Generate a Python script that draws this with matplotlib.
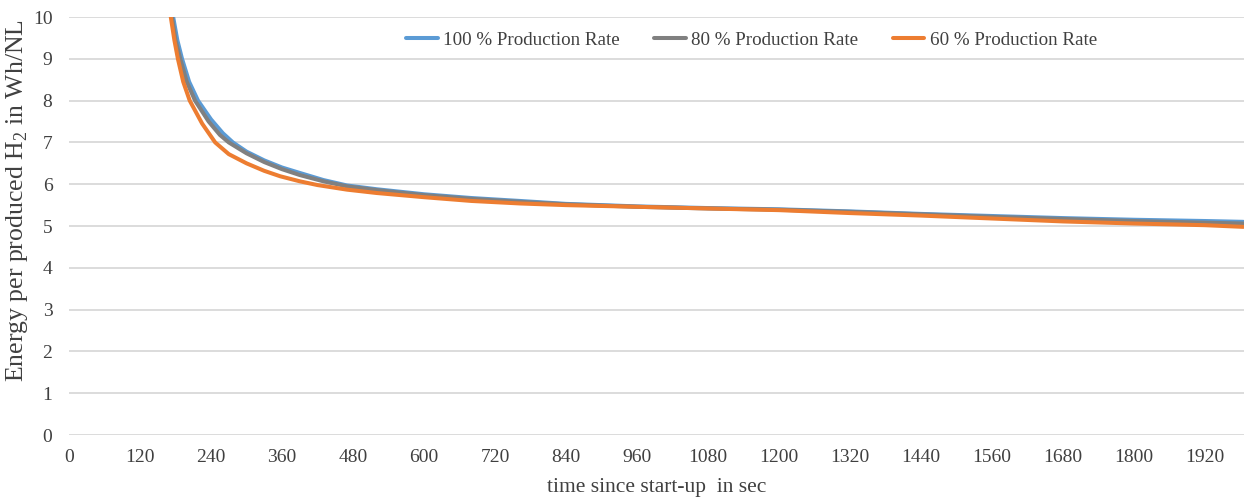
import numpy as np
import matplotlib
matplotlib.use("Agg")
import matplotlib.pyplot as plt

# time since start-up (s) and energy per produced H2 (Wh/NL)
t_100 = [172, 176, 183, 191, 203, 218, 240, 260, 277, 300, 330, 360, 390, 430, 470, 520, 560, 600,
         680, 762, 840, 960, 1080, 1200, 1320, 1440, 1560, 1680, 1800, 1920, 1985]
e_100 = [10.5, 10.0, 9.45, 9.0, 8.45, 8.0, 7.55, 7.22, 7.0, 6.78, 6.57, 6.4, 6.27, 6.1, 5.97, 5.88,
         5.82, 5.76, 5.67, 5.6, 5.53, 5.47, 5.43, 5.40, 5.35, 5.29, 5.24, 5.19, 5.15, 5.12, 5.10]

t_80 = [171, 174, 180, 188, 199, 213, 236, 255, 270, 300, 330, 360, 390, 430, 470, 520, 560, 600,
        680, 762, 840, 960, 1080, 1200, 1320, 1440, 1560, 1680, 1800, 1920, 1985]
e_80 = [10.5, 10.0, 9.45, 9.0, 8.45, 8.0, 7.5, 7.18, 7.0, 6.74, 6.53, 6.36, 6.22, 6.07, 5.95, 5.86,
        5.80, 5.74, 5.65, 5.58, 5.52, 5.46, 5.42, 5.39, 5.34, 5.28, 5.22, 5.17, 5.12, 5.08, 5.06]

t_60 = [170, 172, 178, 184, 193, 204, 225, 247, 270, 300, 330, 357, 390, 420, 470, 520, 560, 600,
        680, 762, 840, 960, 1080, 1200, 1320, 1440, 1560, 1680, 1800, 1920, 1985]
e_60 = [10.5, 10.0, 9.45, 9.0, 8.45, 8.0, 7.45, 7.0, 6.72, 6.5, 6.32, 6.19, 6.07, 5.98, 5.87, 5.79,
        5.74, 5.69, 5.60, 5.54, 5.50, 5.46, 5.42, 5.38, 5.31, 5.25, 5.18, 5.11, 5.06, 5.02, 4.98]

labels = ["100 % Production Rate", "80 % Production Rate", "60 % Production Rate"]
colors = ["#5B9BD5", "#808080", "#ED7D31"]

plt.rcParams.update({
    "font.family": ["Liberation Serif", "DejaVu Serif"],
    "mathtext.fontset": "custom",
    "mathtext.rm": "Liberation Serif",
    "font.size": 14,
})

fig = plt.figure(figsize=(12.44, 5.01), dpi=100)
ax = fig.add_axes([0.0555, 0.1317, 0.9445, 0.8343])

for t, e, lab, c in zip([t_100, t_80, t_60], [e_100, e_80, e_60], labels, colors):
    ax.plot(t, e, color=c, lw=2.9, label=lab, solid_capstyle="round")

ax.set_xlim(0, 1986)
ax.set_ylim(0, 10)
ax.set_xticks(np.arange(0, 1921, 120))
ax.set_yticks(np.arange(0, 11, 1))
ax.tick_params(length=0, labelsize=14, colors="#404040")
ax.tick_params(axis="x", pad=10)
ax.tick_params(axis="y", pad=12)
for s in ax.spines.values():
    s.set_visible(False)
ax.yaxis.grid(True, color="#D9D9D9", lw=1.3)
ax.set_axisbelow(True)

ax.set_xlabel("time since start-up  in sec", fontsize=15.5, color="#404040", labelpad=9)
ax.set_ylabel(r"Energy per produced H$_2$ in Wh/NL", fontsize=18.5, color="#404040",
              va="center")
ax.yaxis.set_label_coords(-0.044, 0.56)

ax.legend(loc="center", bbox_to_anchor=(0.581, 0.945), ncol=3, frameon=False,
          handlelength=1.65, handletextpad=0.3, columnspacing=1.8, fontsize=13.7,
          labelcolor="#404040")

fig.savefig("out.png", dpi=100)
